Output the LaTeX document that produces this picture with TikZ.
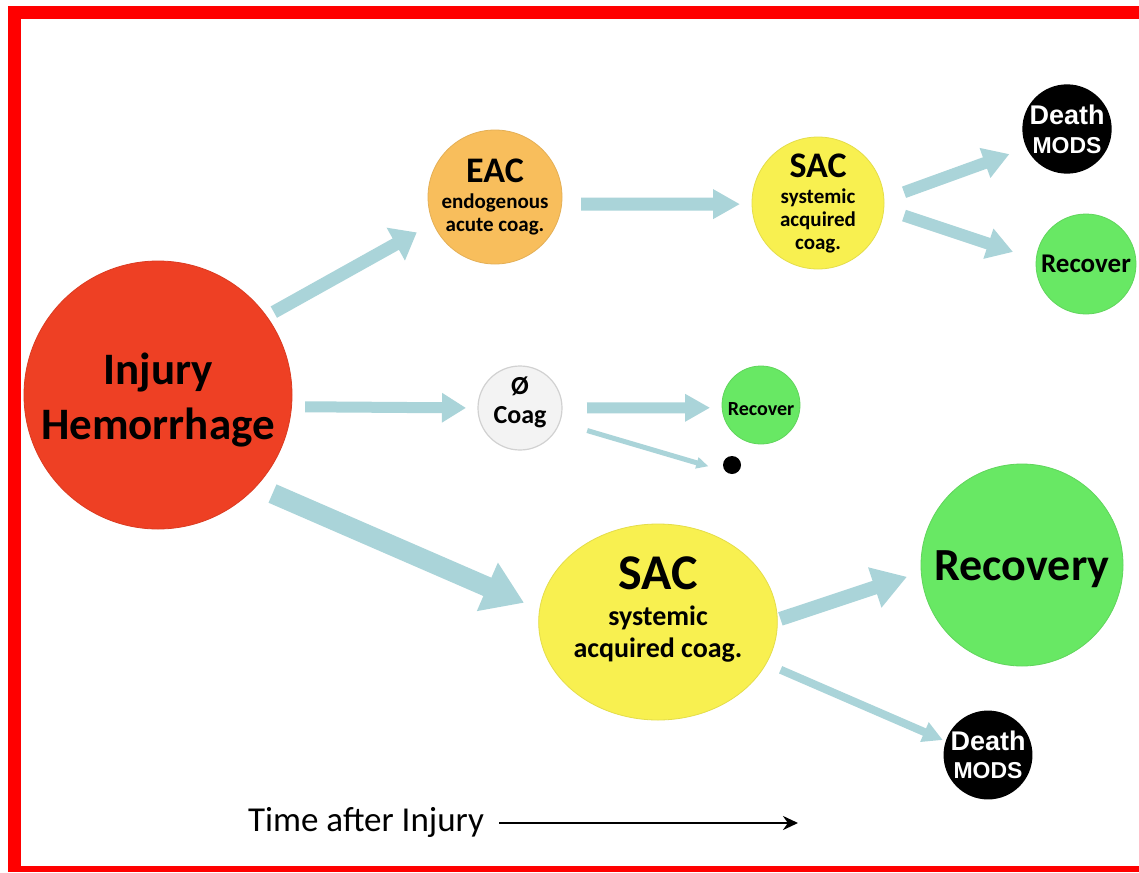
\documentclass[tikz,border=0pt]{standalone}
\usepackage{fontspec}
\setmainfont{Carlito}
\newfontfamily\deathfont{Liberation Sans}
\usetikzlibrary{arrows.meta,shapes.geometric}

\definecolor{injred}{RGB}{238,64,36}
\definecolor{eacorange}{RGB}{248,190,92}
\definecolor{sacyellow}{RGB}{248,240,80}
\definecolor{recgreen}{RGB}{104,232,100}
\definecolor{coaggray}{RGB}{243,243,243}
\definecolor{flowblue}{RGB}{170,212,217}
\definecolor{framered}{RGB}{255,0,0}

\newcommand\fsz[2]{\fontsize{#1}{#2}\selectfont}
% invisible struts to nudge a label up or down inside its circle
\newcommand\upstrut[1]{\rule{0pt}{#1}}
\newcommand\downstrut[1]{\rule[-#1]{0pt}{0pt}}

\tikzset{
  stage/.style={circle, inner sep=0pt, outer sep=0pt, align=center,
                text=black},
  oval/.style={ellipse, inner sep=0pt, outer sep=0pt, align=center,
                text=black},
  fate/.style={stage, fill=black, text=white},
  flow/.style={draw=flowblue, line cap=butt},
}

\begin{document}
\begin{tikzpicture}[x=1pt, y=-1pt]
  % canvas and red frame
  \fill[white] (0,0) rectangle (1139,872);
  \useasboundingbox (0,0) rectangle (1139,872);
  \fill[framered] (8,6) rectangle (1139,19);
  \fill[framered] (8,6) rectangle (21,872);
  \fill[framered] (8,866) rectangle (1139,872);

  % stages
  \node[stage, fill=injred, draw=injred!92!black, line width=0.8, minimum size=268,
        font=\bfseries\fsz{45}{55}] (inj) at (158,395)
    {\upstrut{42pt}Injury\\Hemorrhage};
  \node[stage, fill=eacorange, draw=eacorange!92!black, line width=0.8, minimum size=134,
        font=\bfseries\fsz{21}{23}] (eac) at (495,197)
    {{\fsz{36}{36}EAC}\\[3pt]endogenous\\acute coag.};
  \node[stage, fill=sacyellow, draw=sacyellow!92!black, line width=0.8, minimum size=132,
        font=\bfseries\fsz{21}{23}] (sac1) at (818,203)
    {{\fsz{36}{36}SAC}\\[3pt]systemic\\acquired\\coag.};
  \node[fate, minimum size=82, font=\deathfont\bfseries\fsz{23}{29}] (die1) at (1067,129)
    {{\fsz{27}{28}Death}\\MODS};
  \node[stage, fill=recgreen, draw=recgreen!92!black, line width=0.8, minimum size=100,
        font=\bfseries\fsz{27}{28}] (rec1) at (1086,264)
    {Recover};
  \node[stage, fill=coaggray, draw=black!18, line width=1.2, minimum size=84,
        font=\bfseries\fsz{26}{29}] (coag) at (520,408)
    {Ø\\Coag\downstrut{15pt}};
  \node[stage, fill=recgreen, draw=recgreen!92!black, line width=0.8, minimum size=78,
        font=\bfseries\fsz{20}{22}] (rec2) at (761,405)
    {\upstrut{21pt}Recover};
  \node[circle, fill=black, inner sep=0pt, outer sep=0pt, minimum size=18] (dot) at (732,465) {};
  \node[oval, fill=sacyellow, draw=sacyellow!92!black, line width=0.8, minimum width=220, minimum height=196,
        font=\bfseries\fsz{28}{32}] (sac2) at (658,622)
    {{\fsz{50}{50}SAC}\\[4pt]systemic\\acquired coag.\downstrut{30pt}};
  \node[stage, fill=recgreen, draw=recgreen!92!black, line width=0.8, minimum size=202,
        font=\bfseries\fsz{46}{48}] (recov) at (1022,565)
    {\upstrut{38pt}Recovery};
  \node[fate, minimum size=84, font=\deathfont\bfseries\fsz{23}{28}] (die2) at (988,755)
    {{\fsz{27}{28}Death}\\MODS};

  % transitions between stages
  \draw[flow, line width=13, -{Triangle[width=36pt,length=24pt]}, shorten <=8.5, shorten >=19]
    (inj.36.7) -- (eac.203.8);
  \draw[flow, line width=11, -{Triangle[width=28pt,length=24pt]}, shorten <=13.6, shorten >=12]
    (inj.-5.6) -- (coag.180);
  \draw[flow, line width=20, -{Triangle[width=50pt,length=40pt]}, shorten <=18, shorten >=17]
    (inj.-43.4) -- (sac2.174.6);
  \draw[flow, line width=13, -{Triangle[width=28pt,length=27pt]}, shorten <=19.4, shorten >=12]
    (eac.-6) -- (sac1.181);
  \draw[flow, line width=12, -{Triangle[width=30pt,length=26pt]}, shorten <=21.4, shorten >=18.2]
    (sac1.3.3) -- (die1.205.9);
  \draw[flow, line width=12, -{Triangle[width=30pt,length=26pt]}, shorten <=21.4, shorten >=24.4]
    (sac1.-5.5) -- (rec1.175.1);
  \draw[flow, line width=11, -{Triangle[width=26pt,length=25pt]}, shorten <=25, shorten >=12]
    (coag.0) -- (rec2.184.4);
  \draw[flow, line width=5, -{Triangle[width=11pt,length=12pt]}, shorten <=28.9, shorten >=18]
    (coag.-20.6) -- (dot.225);
  \draw[flow, line width=14, -{Triangle[width=40pt,length=34pt]}, shorten <=3.3, shorten >=15]
    (sac2.1) -- (recov.184.3);
  \draw[flow, line width=8, -{Triangle[width=20pt,length=20pt]}, shorten <=15.8, shorten >=3.2]
    (sac2.-21.6) -- (die2.162.3);

  % time axis
  \node[font=\fsz{35}{37}] (time) at (366,822) {Time after Injury};
  \coordinate (tend) at (798,823);
  \draw[line width=2.8, -{Stealth[length=15pt,width=14pt]}, shorten <=12] (time.east |- tend) -- (tend);
\end{tikzpicture}
\end{document}
